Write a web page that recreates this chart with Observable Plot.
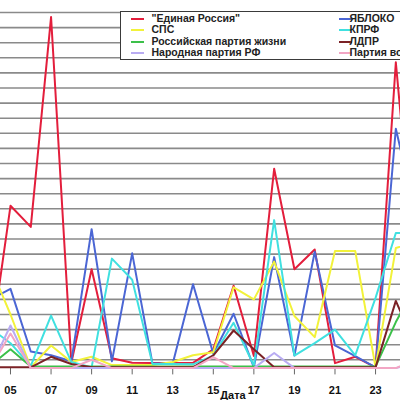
<!DOCTYPE html>
<html><head><meta charset="utf-8">
<script src="https://cdn.jsdelivr.net/npm/d3@7"></script>
<script src="https://cdn.jsdelivr.net/npm/@observablehq/plot@0.6"></script>
<style>
html,body{margin:0;padding:0;background:#fff;overflow:hidden;}
#wrap{position:relative;width:400px;height:400px;overflow:hidden;background:#fff;}
#legend{position:absolute;left:120px;top:11px;width:300px;height:47px;border:1.5px solid #3a3a3a;background:#fff;font:bold 10.5px "Liberation Sans",Arial,sans-serif;color:#222;}
.item{position:absolute;white-space:nowrap;line-height:11px;height:11px;}
.sw{position:absolute;height:2px;}
</style></head><body><div id="wrap"></div>
<script>
// Days of the month (x categories)
const days = [4,5,6,7,8,9,10,11,12,13,14,15,16,17,18,19,20,21,22,23,24,25];
// Series values (in gridline units)
const edinayaRossiya = [1.7,11.2,9.8,23.7,0.8,7.0,1.1,0.8,0.78,0.78,0.8,1.7,5.9,1.25,13.65,7.0,8.3,0.78,1.2,0.5,20.7,6.0];
const yabloko        = [5.0,5.7,1.55,1.3,0.9,9.65,0.9,8.05,0.75,0.75,6.0,1.4,4.05,0.5,7.8,1.28,8.15,1.95,1.25,0.5,16.3,10.5];
const sps            = [7.2,4.0,0.5,1.95,0.85,1.2,0.65,0.65,0.65,0.85,1.3,1.5,5.8,5.0,7.5,3.9,2.5,8.2,8.2,0.5,8.4,8.8];
const kprf           = [3.1,2.1,0.6,3.93,0.85,0.5,7.7,6.3,0.73,0.73,0.7,1.28,3.45,0.62,10.25,1.28,2.1,3.0,1.3,5.1,9.4,9.4];
const rpzh           = [0.6,1.7,0.55,0.55,0.55,0.55,0.55,0.55,0.55,0.55,0.55,0.55,0.55,0.55,0.55,0.55,0.55,0.55,0.55,0.55,3.5,6.0];
const ldpr           = [0.5,0.5,0.5,1.2,0.72,0.5,0.5,0.5,0.5,0.5,0.5,1.3,2.94,1.7,0.5,0.5,0.5,0.5,0.5,0.5,4.9,1.8];
const narodnaya      = [0.45,3.27,0.45,0.45,0.45,0.45,0.45,0.45,0.45,0.45,0.45,0.45,0.45,0.45,1.45,0.45,0.45,0.45,0.45,0.45,0.45,0.8];
const partiyaVo      = [0.45,2.74,0.45,0.45,0.45,1.0,0.45,0.45,0.45,0.45,0.45,1.17,0.45,0.45,0.45,0.45,0.45,0.45,0.45,0.45,0.45,1.0];

const seriesNames  = ["\"Единая Россия\"","ЯБЛОКО","СПС","КПРФ","Российская партия жизни","ЛДПР","Народная партия РФ","Партия во"];
const seriesValues = [edinayaRossiya, yabloko, sps, kprf, rpzh, ldpr, narodnaya, partiyaVo];
const seriesColors = ["#e31e3c","#4b66d4","#f2f23a","#40e0e0","#3cc04a","#7b2226","#b9acf2","#f2a6c4"];
const tickDays = [5,7,9,11,13,15,17,19,21,23];
const tickLabels = ["05","07","09","11","13","15","17","19","21","23"];
const axisTitle = "Дата";
const gridValues = d3.range(1,25);

const rows = [];
seriesNames.forEach((name,i)=>{
  days.forEach((d,j)=>rows.push({series:name, order:i, day:d, value:seriesValues[i][j]}));
});

const chart = Plot.plot({
  width:400, height:400,
  marginLeft:0, marginRight:0, marginTop:12, marginBottom:25.6,
  x:{type:"linear", domain:[4.507,24.23], axis:null},
  y:{domain:[0,24], axis:null},
  color:{domain:seriesNames, range:seriesColors},
  style:{background:"#fff", overflow:"hidden"},
  marks:[
    Plot.ruleY(gridValues, {stroke:"#8a8a8a", strokeWidth:1.6}),
    Plot.ruleX(tickDays, {y1:0, y2:0.45, stroke:"#666", strokeWidth:1}),
    ...seriesNames.map((name,i)=>Plot.lineY(rows.filter(r=>r.order===i), {x:"day", y:"value", stroke:seriesColors[i], strokeWidth:2, clip:true})),
    Plot.axisX(tickDays, {tickSize:0, tickPadding:11, tickFormat:(d,i)=>tickLabels[tickDays.indexOf(d)], fontSize:11, fontWeight:"bold", fontFamily:"Liberation Sans, Arial, sans-serif", fill:"#111", label:null}),
    Plot.text([axisTitle], {x:15.97, y:0, dy:20.6, text:d=>d, fontSize:11, fontWeight:"bold", fontFamily:"Liberation Sans, Arial, sans-serif", fill:"#111"})
  ]
});
const wrap = document.getElementById("wrap");
wrap.appendChild(chart);

// Legend (overlay, two columns, row-wise order like the original)
const legend = document.createElement("div");
legend.id = "legend";
const colSw = [10, 218], colTx = [30.5, 228.5], rowTop = [0.5, 12, 23.5, 34.5];
seriesNames.forEach((name,i)=>{
  const c = i%2, r = Math.floor(i/2);
  const sw = document.createElement("div");
  sw.className = "sw";
  sw.style.left = colSw[c]+"px"; sw.style.width = "13px";
  sw.style.top = (rowTop[r]+5)+"px"; sw.style.background = seriesColors[i];
  legend.appendChild(sw);
  const t = document.createElement("div");
  t.className = "item"; t.textContent = name;
  t.style.left = colTx[c]+"px"; t.style.top = rowTop[r]+"px";
  legend.appendChild(t);
});
wrap.appendChild(legend);
</script></body></html>
